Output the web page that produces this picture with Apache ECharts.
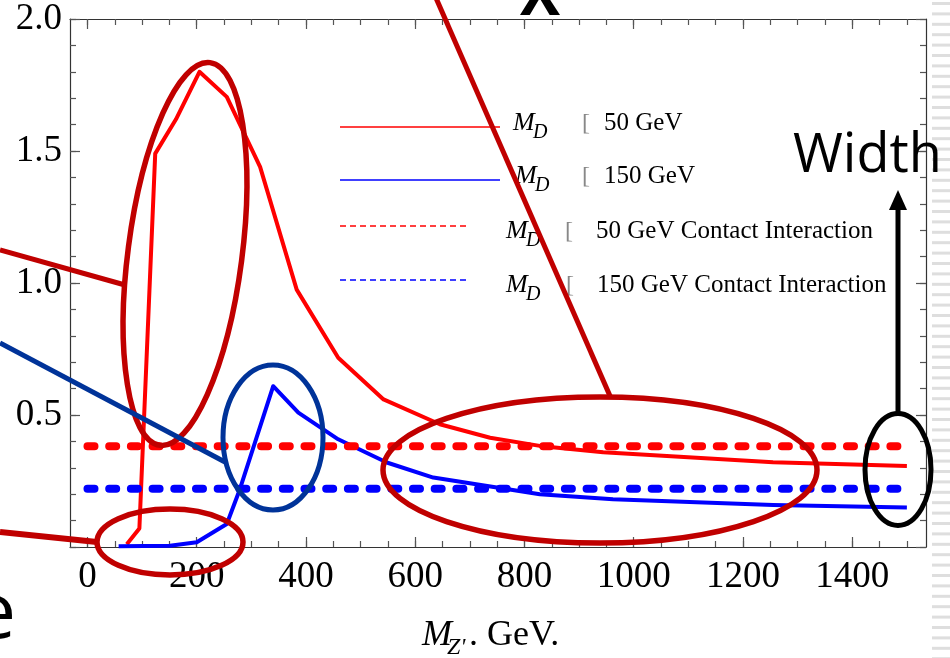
<!DOCTYPE html>
<html><head><meta charset="utf-8">
<script src="https://cdn.jsdelivr.net/npm/echarts@6/dist/echarts.min.js"></script>
<style>html,body{margin:0;padding:0;background:#fff}#c{width:950px;height:658px}</style>
</head><body><div id="c"></div>
<script>
// ---- data ----
const md50Mass   = [72, 95, 124, 162, 205, 255, 316, 383, 459, 542, 645, 737, 828, 944, 1255, 1500];
const md50Width  = [0.01, 0.07, 1.49, 1.62, 1.80, 1.705, 1.44, 0.975, 0.717, 0.559, 0.465, 0.414, 0.383, 0.359, 0.321, 0.307];
const md150Mass  = [57, 151, 200, 255, 279, 340, 386, 459, 548, 633, 828, 962, 1255, 1500];
const md150Width = [0.003, 0.005, 0.018, 0.087, 0.219, 0.609, 0.509, 0.408, 0.32, 0.263, 0.20, 0.181, 0.159, 0.150];
const contactMass = [0, 1500];
const contact50Width  = [0.382, 0.382];
const contact150Width = [0.221, 0.221];
const xTickLabels = [0, 200, 400, 600, 800, 1000, 1200, 1400];
const yTickLabels = [0.5, 1.0, 1.5, 2.0];
const legendLabels = ['50 GeV', '150 GeV', '50 GeV Contact Interaction', '150 GeV Contact Interaction'];
const seriesNames = ['M_D [ 50 GeV', 'M_D [ 150 GeV', 'M_D [ 50 GeV Contact Interaction', 'M_D [ 150 GeV Contact Interaction'];

// ---- axes setup ----
const X_MIN = -32, X_MAX = 1535, Y_MIN = 0, Y_MAX = 2;
const xMinor = []; for (let v = 0; v <= 1500; v += 50) xMinor.push(v);
const yMajor = [0, 0.5, 1.0, 1.5, 2.0];
const yMinor = []; for (let i = 0; i <= 20; i++) yMinor.push(+(i * 0.1).toFixed(1));
const frameColor = '#333', tickColor = '#555';
const serif = '"Liberation Serif", "Times New Roman", serif';
const sans = '"Open Sans", sans-serif';

function mkX(pos, ticks, len, withLabel, withLine) {
  return {
    type: 'value', position: pos, min: X_MIN, max: X_MAX,
    axisLine: {show: withLine, onZero: false, lineStyle: {color: frameColor, width: 1.2}},
    axisTick: {show: true, inside: true, length: len, customValues: ticks, lineStyle: {color: tickColor, width: 1.2}},
    axisLabel: {show: withLabel, customValues: xTickLabels, color: '#000', fontFamily: serif, fontSize: 37, margin: 12,
      formatter: v => String(v)},
    splitLine: {show: false}
  };
}
function mkY(pos, ticks, len, withLabel, withLine) {
  return {
    type: 'value', position: pos, min: Y_MIN, max: Y_MAX,
    axisLine: {show: withLine, onZero: false, lineStyle: {color: frameColor, width: 1.2}},
    axisTick: {show: true, inside: true, length: len, customValues: ticks, lineStyle: {color: tickColor, width: 1.2}},
    axisLabel: {show: withLabel, customValues: yTickLabels, color: '#000', fontFamily: serif, fontSize: 37, margin: 8,
      padding: [9, 0, 0, 0], formatter: v => v.toFixed(1)},
    splitLine: {show: false}
  };
}
const zip = (a, b) => a.map((v, i) => [v, b[i]]);

// ---- decorations ----
const annoRed = '#c00000', annoBlue = '#003399';
const g = [];
function ell(cx, cy, rx, ry, rot, color, w) {
  g.push({type: 'ellipse', x: cx, y: cy, rotation: rot, shape: {cx: 0, cy: 0, rx: rx, ry: ry},
    style: {fill: 'none', stroke: color, lineWidth: w}, z: 100});
}
function seg(x1, y1, x2, y2, color, w, dash) {
  g.push({type: 'line', shape: {x1, y1, x2, y2}, style: {stroke: color, lineWidth: w, lineDash: dash || null}, z: 100});
}
function txt(x, y, text, font, align, z, fill) {
  g.push({type: 'text', x: x, y: y, style: {text: text, font: font, fill: fill || '#000', textAlign: align || 'left', textVerticalAlign: 'middle'}, z: z || 100});
}
// striped band at right edge
for (let y = 2; y < 658; y += 10.4) g.push({type: 'rect', shape: {x: 932, y: y, width: 18, height: 3}, style: {fill: '#dedede'}, z: 1});

// legend (Mathematica-style, inside plot)
const legRows = [
  {y: 127, x1: 340, x2: 500, color: '#ff0000', dash: null, mx: 513, bx: 582, tx: 604, tb: 4},
  {y: 180, x1: 340, x2: 500, color: '#0000ff', dash: null, mx: 515, bx: 582, tx: 604, tb: 4},
  {y: 226, x1: 340, x2: 470, color: '#ff0000', dash: [6, 4], mx: 506, bx: 565, tx: 596, tb: 13},
  {y: 280, x1: 340, x2: 470, color: '#0000ff', dash: [6, 4], mx: 506, bx: 566, tx: 597, tb: 13}
];
legRows.forEach((r, i) => {
  seg(r.x1, r.y, r.x2, r.y, r.color, 1.3, r.dash);
  const base = r.y + r.tb;
  txt(r.mx, base - 0.305 * 26, 'M', 'italic 26px ' + serif, 'left', 90);
  txt(r.mx + 20, base + 8 - 0.305 * 20, 'D', 'italic 20px ' + serif, 'left', 90);
  txt(r.bx, base - 0.305 * 24, '[', '24px ' + serif, 'left', 90, '#888');
  txt(r.tx, base - 0.305 * 25, legendLabels[i], '25px ' + serif, 'left', 90);
});

// x-axis title
txt(422, 647 - 0.305 * 36, 'M', 'italic 36px ' + serif);
txt(447, 655 - 0.305 * 24, "Z'", 'italic 24px ' + serif);
txt(469, 647 - 0.305 * 36, '. GeV.', '36px ' + serif);

// annotations
ell(185, 254, 57, 193, -0.13, annoRed, 5.5);
seg(0, 250, 125, 285, annoRed, 5);
seg(436, -2, 610, 396, annoRed, 5);
ell(600, 470, 217, 73, 0, annoRed, 5.5);
ell(170, 542, 73, 33, 0, annoRed, 5.5);
seg(0, 532, 97, 542, annoRed, 6);
ell(273, 437.5, 50, 72.5, 0, annoBlue, 5);
seg(0, 343, 225, 462, annoBlue, 5);
ell(898, 469.5, 33, 56, 0, '#000', 5);
seg(898, 413, 898, 205, '#000', 5);
g.push({type: 'polygon', shape: {points: [[898, 190], [889, 210], [907, 210]]}, style: {fill: '#000'}, z: 100});
txt(793, 172 - 0.285 * 54, 'Width', '54px ' + sans);
txt(16, 638 - 0.285 * 76, 'e', '76px ' + sans, 'right');
txt(520, 15 - 0.285 * 60, 'X', 'bold 60px ' + sans);

const chart = echarts.init(document.getElementById('c'));
chart.setOption({
  animation: false,
  backgroundColor: '#fff',
  grid: {left: 70, top: 19, right: 24, bottom: 111, containLabel: false},
  xAxis: [
    mkX('bottom', xTickLabels, 10, true, true),
    mkX('bottom', xMinor, 6, false, false),
    mkX('top', xTickLabels, 10, false, true),
    mkX('top', xMinor, 6, false, false)
  ],
  yAxis: [
    mkY('left', yMajor, 10, true, true),
    mkY('left', yMinor, 6, false, false),
    mkY('right', yMajor, 10, false, true),
    mkY('right', yMinor, 6, false, false)
  ],
  series: [
    {name: seriesNames[0], type: 'line', data: zip(md50Mass, md50Width), symbol: 'none',
      lineStyle: {color: '#ff0000', width: 4, join: 'round'}, z: 3},
    {name: seriesNames[1], type: 'line', data: zip(md150Mass, md150Width), symbol: 'none',
      lineStyle: {color: '#0000ff', width: 4, join: 'round'}, z: 3},
    {name: seriesNames[2], type: 'line', data: zip(contactMass, contact50Width), symbol: 'none',
      lineStyle: {color: '#ff0000', width: 8, type: [7, 14.7], cap: 'round'}, z: 4},
    {name: seriesNames[3], type: 'line', data: zip(contactMass, contact150Width), symbol: 'none',
      lineStyle: {color: '#0000ff', width: 8, type: [7, 14.7], cap: 'round'}, z: 4}
  ],
  graphic: {elements: g}
});
</script>
</body></html>
